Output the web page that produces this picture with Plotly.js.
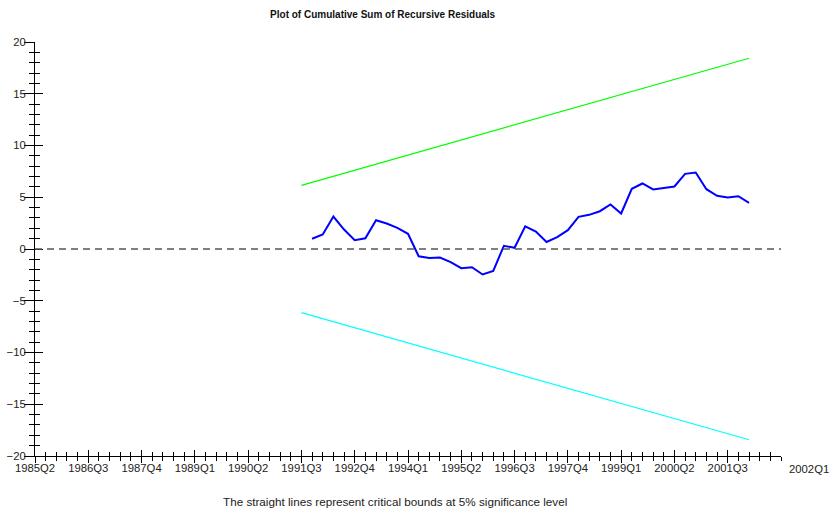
<!DOCTYPE html>
<html>
<head>
<meta charset="utf-8">
<script src="https://cdn.plot.ly/plotly-3.0.1.min.js"></script>
<style>html,body{margin:0;padding:0;background:#fff;}#chart{width:830px;height:514px;}</style>
</head>
<body>
<div id="chart"></div>
<script>
// Quarters of the recursive residual CUSUM series
const quarters = [
  '1991Q4','1992Q1','1992Q2','1992Q3','1992Q4','1993Q1','1993Q2','1993Q3','1993Q4',
  '1994Q1','1994Q2','1994Q3','1994Q4','1995Q1','1995Q2','1995Q3','1995Q4',
  '1996Q1','1996Q2','1996Q3','1996Q4','1997Q1','1997Q2','1997Q3','1997Q4',
  '1998Q1','1998Q2','1998Q3','1998Q4','1999Q1','1999Q2','1999Q3','1999Q4',
  '2000Q1','2000Q2','2000Q3','2000Q4','2001Q1','2001Q2','2001Q3','2001Q4','2002Q1'
];
const cusum = [
  0.99, 1.40, 3.14, 1.88, 0.85, 1.04, 2.78, 2.46, 2.05,
  1.47, -0.70, -0.87, -0.82, -1.27, -1.85, -1.76, -2.46,
  -2.11, 0.31, 0.12, 2.20, 1.69, 0.68, 1.14, 1.82,
  3.11, 3.30, 3.65, 4.30, 3.43, 5.82, 6.33, 5.76,
  5.91, 6.04, 7.26, 7.39, 5.78, 5.14, 4.98, 5.10, 4.46
];
// Critical bounds (5%) endpoints
const boundQuarters = ['1991Q3', '2002Q1'];
const upperBound = [6.14, 18.43];
const lowerBound = [-6.14, -18.43];
// Axis tick labels
const xTickLabels = ['1985Q2','1986Q3','1987Q4','1989Q1','1990Q2','1991Q3','1992Q4',
  '1994Q1','1995Q2','1996Q3','1997Q4','1999Q1','2000Q2','2001Q3'];
const xAxisStart = '1985Q2';
const xAxisEnd = '2002Q4';
const endLabel = '2002Q1';

function qnum(s) { return parseInt(s.slice(0,4)) + (parseInt(s.slice(5)) - 1) / 4; }

const FONT = 'Liberation Sans, Arial, sans-serif';
const xr = [qnum(xAxisStart), qnum(xAxisEnd)];

const traces = [
  {x: boundQuarters.map(qnum), y: upperBound, mode: 'lines', line: {color: '#00ff00', width: 1.2}, hoverinfo: 'none'},
  {x: boundQuarters.map(qnum), y: lowerBound, mode: 'lines', line: {color: '#00ffff', width: 1.2}, hoverinfo: 'none'},
  {x: quarters.map(qnum), y: cusum, mode: 'lines', line: {color: '#0000ff', width: 2}, hoverinfo: 'none'},
  {x: [], y: [], xaxis: 'x2', yaxis: 'y2', mode: 'lines', hoverinfo: 'none'}
];

const tickFont = {family: FONT, size: 11.3, color: '#222'};
const layout = {
  width: 830, height: 514,
  margin: {l: 35, r: 49, t: 42, b: 58},
  paper_bgcolor: '#fff', plot_bgcolor: '#fff',
  showlegend: false,
  font: {family: FONT, size: 11, color: '#222'},
  title: {text: '<b>Plot of Cumulative Sum of Recursive Residuals</b>', font: {family: FONT, size: 10, color: '#111'},
          x: 0.461, xref: 'container', xanchor: 'center', y: 0.972, yref: 'container', yanchor: 'middle'},
  xaxis: {
    range: xr, showgrid: false, zeroline: false, showline: true, linecolor: '#000', linewidth: 1,
    tickmode: 'array', tickvals: xTickLabels.map(qnum), ticktext: xTickLabels,
    ticks: 'outside', ticklen: 6, tickcolor: '#000', tickwidth: 1, tickfont: tickFont, ticklabelstandoff: -5,
    minor: {tick0: qnum(xAxisStart), dtick: 0.25, ticks: 'outside', ticklen: 4, tickcolor: '#000', tickwidth: 1, showgrid: false},
    fixedrange: true
  },
  xaxis2: {
    overlaying: 'x', anchor: 'y', side: 'bottom', range: xr, showgrid: false, zeroline: false, showline: false,
    tickmode: 'array', tickvals: xTickLabels.map(qnum), ticktext: xTickLabels, showticklabels: false,
    ticks: 'inside', ticklen: 6, tickcolor: '#000', tickwidth: 1,
    minor: {tick0: qnum(xAxisStart), dtick: 0.25, ticks: 'inside', ticklen: 4, tickcolor: '#000', tickwidth: 1, showgrid: false}
  },
  yaxis: {
    range: [-20, 20], showgrid: false, zeroline: false, showline: true, linecolor: '#000', linewidth: 1,
    tick0: 0, dtick: 5, ticks: 'outside', ticklen: 10, tickcolor: '#000', tickwidth: 1, tickfont: tickFont, ticklabelstandoff: -4,
    minor: {dtick: 1, ticks: 'outside', ticklen: 5, tickcolor: '#000', tickwidth: 1, showgrid: false},
    fixedrange: true
  },
  yaxis2: {
    overlaying: 'y', anchor: 'x', side: 'left', range: [-20, 20], showgrid: false, zeroline: false, showline: false,
    tick0: 0, dtick: 5, showticklabels: false, ticks: 'inside', ticklen: 8, tickcolor: '#000', tickwidth: 1,
    minor: {dtick: 1, ticks: 'inside', ticklen: 5, tickcolor: '#000', tickwidth: 1, showgrid: false}
  },
  shapes: [
    {type: 'line', xref: 'paper', yref: 'y', x0: 0, x1: 1, y0: 0, y1: 0, line: {color: '#555', width: 1.5, dash: '7px,5px'}}
  ],
  annotations: [
    {text: endLabel, xref: 'paper', yref: 'paper', x: 1.038, y: -0.031, xanchor: 'center', yanchor: 'middle', showarrow: false, font: tickFont},
    {text: 'The straight lines represent critical bounds at 5% significance level', xref: 'paper', yref: 'paper',
     x: 0.4826, y: -0.1087, xanchor: 'center', yanchor: 'middle', showarrow: false, font: {family: FONT, size: 11.7, color: '#222'}}
  ]
};

Plotly.newPlot('chart', traces, layout, {staticPlot: true, displayModeBar: false});
</script>
</body>
</html>
